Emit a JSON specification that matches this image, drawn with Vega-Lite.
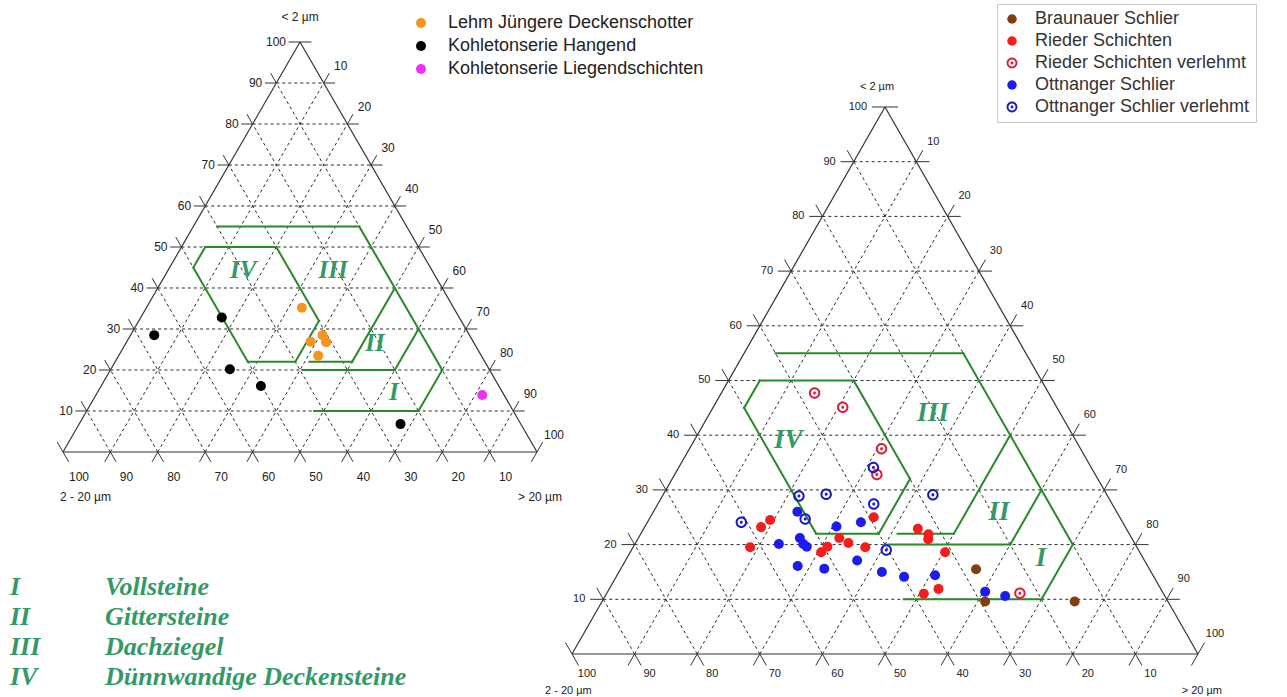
{
"$schema": "https://vega.github.io/schema/vega-lite/v6.json",
"background": "white",
"padding": 0,
"bounds": "flush",
"spacing": 0,
"config": {"view": {"stroke": null}, "text": {"font": "Liberation Sans"}, "legend": {"labelFont": "Liberation Sans"}},
"resolve": {"scale": {"color": "independent", "shape": "independent"}},
"datasets": {
"lines": [
{"kind":"grid","c1":10,"s1":0,"c2":10,"s2":90},{"kind":"grid","c1":20,"s1":0,"c2":20,"s2":80},{"kind":"grid","c1":30,"s1":0,"c2":30,"s2":70},{"kind":"grid","c1":40,"s1":0,"c2":40,"s2":60},{"kind":"grid","c1":50,"s1":0,"c2":50,"s2":50},{"kind":"grid","c1":60,"s1":0,"c2":60,"s2":40},{"kind":"grid","c1":70,"s1":0,"c2":70,"s2":30},{"kind":"grid","c1":80,"s1":0,"c2":80,"s2":20},{"kind":"grid","c1":90,"s1":0,"c2":90,"s2":10},
{"kind":"grid","c1":0,"s1":10,"c2":90,"s2":10},{"kind":"grid","c1":0,"s1":20,"c2":80,"s2":20},{"kind":"grid","c1":0,"s1":30,"c2":70,"s2":30},{"kind":"grid","c1":0,"s1":40,"c2":60,"s2":40},{"kind":"grid","c1":0,"s1":50,"c2":50,"s2":50},{"kind":"grid","c1":0,"s1":60,"c2":40,"s2":60},{"kind":"grid","c1":0,"s1":70,"c2":30,"s2":70},{"kind":"grid","c1":0,"s1":80,"c2":20,"s2":80},{"kind":"grid","c1":0,"s1":90,"c2":10,"s2":90},
{"kind":"grid","c1":0,"s1":90,"c2":90,"s2":0},{"kind":"grid","c1":0,"s1":80,"c2":80,"s2":0},{"kind":"grid","c1":0,"s1":70,"c2":70,"s2":0},{"kind":"grid","c1":0,"s1":60,"c2":60,"s2":0},{"kind":"grid","c1":0,"s1":50,"c2":50,"s2":0},{"kind":"grid","c1":0,"s1":40,"c2":40,"s2":0},{"kind":"grid","c1":0,"s1":30,"c2":30,"s2":0},{"kind":"grid","c1":0,"s1":20,"c2":20,"s2":0},{"kind":"grid","c1":0,"s1":10,"c2":10,"s2":0},
{"kind":"edge","c1":0,"s1":0,"c2":0,"s2":100},{"kind":"edge","c1":0,"s1":0,"c2":100,"s2":0},{"kind":"edge","c1":0,"s1":100,"c2":100,"s2":0},
{"kind":"corner","c1":100,"s1":0,"c2":100,"s2":0.001},{"kind":"corner","c1":0,"s1":0,"c2":0.001,"s2":-0.001},{"kind":"corner","c1":0,"s1":100,"c2":0.001,"s2":100}
],
"zones": [
{"c1":55,"s1":5,"c2":55,"s2":35},{"c1":55,"s1":35,"c2":20,"s2":70},{"c1":20,"s1":70,"c2":10,"s2":70},{"c1":10,"s1":70,"c2":10,"s2":48},
{"c1":20,"s1":40.5,"c2":20,"s2":60},{"c1":20,"s1":60,"c2":30,"s2":60},
{"c1":22,"s1":41,"c2":22,"s2":50},{"c1":22,"s1":50,"c2":40,"s2":50},
{"c1":50,"s1":5,"c2":50,"s2":20},{"c1":50,"s1":20,"c2":32,"s2":38},{"c1":32,"s1":38,"c2":22,"s2":38},{"c1":22,"s1":38,"c2":22,"s2":28},{"c1":22,"s1":28,"c2":45,"s2":5},{"c1":45,"s1":5,"c2":50,"s2":5}
],
"vals": [{"v":10},{"v":20},{"v":30},{"v":40},{"v":50},{"v":60},{"v":70},{"v":80},{"v":90},{"v":100}],
"fieldNames": [{"code":"I","name":"Vollsteine"},{"code":"II","name":"Gittersteine"},{"code":"III","name":"Dachziegel"},{"code":"IV","name":"Dünnwandige Deckensteine"}],
"zoneLabelsL": [{"label":"IV","clay":44.4,"sand":15.8},{"label":"III","clay":44.4,"sand":34.8},{"label":"II","clay":26.6,"sand":52.5},{"label":"I","clay":14.6,"sand":62.5}],
"zoneLabelsR": [{"label":"IV","clay":39.1,"sand":15.0},{"label":"III","clay":44.1,"sand":35.6},{"label":"II","clay":26.0,"sand":55.2},{"label":"I","clay":17.6,"sand":66.1}],
"ptsL": [
{"group":"Lehm Jüngere Deckenschotter","clay":35.2,"sand":32.8},{"group":"Lehm Jüngere Deckenschotter","clay":26.9,"sand":38.8},{"group":"Lehm Jüngere Deckenschotter","clay":28.5,"sand":40.5},{"group":"Lehm Jüngere Deckenschotter","clay":26.8,"sand":42.1},{"group":"Lehm Jüngere Deckenschotter","clay":23.5,"sand":42.1},
{"group":"Kohletonserie Hangend","clay":32.8,"sand":17.1},{"group":"Kohletonserie Hangend","clay":28.5,"sand":5.0},{"group":"Kohletonserie Hangend","clay":20.2,"sand":25.1},{"group":"Kohletonserie Hangend","clay":16.1,"sand":33.7},{"group":"Kohletonserie Hangend","clay":6.8,"sand":67.8},
{"group":"Kohletonserie Liegendschichten","clay":13.9,"sand":81.5}
],
"ptsR": [
{"group":"Braunauer Schlier","clay":15.5,"sand":56.8},{"group":"Braunauer Schlier","clay":9.6,"sand":61.2},{"group":"Braunauer Schlier","clay":9.6,"sand":75.5},
{"group":"Rieder Schichten","clay":24.5,"sand":19.4},{"group":"Rieder Schichten","clay":23.2,"sand":18.6},{"group":"Rieder Schichten","clay":19.5,"sand":18.7},{"group":"Rieder Schichten","clay":25.0,"sand":35.7},{"group":"Rieder Schichten","clay":21.2,"sand":32.1},{"group":"Rieder Schichten","clay":20.3,"sand":34.0},{"group":"Rieder Schichten","clay":19.5,"sand":37.1},{"group":"Rieder Schichten","clay":19.6,"sand":31.0},{"group":"Rieder Schichten","clay":18.6,"sand":30.5},{"group":"Rieder Schichten","clay":22.9,"sand":43.8},{"group":"Rieder Schichten","clay":21.9,"sand":46.0},{"group":"Rieder Schichten","clay":21.0,"sand":46.4},{"group":"Rieder Schichten","clay":18.6,"sand":50.3},{"group":"Rieder Schichten","clay":11.9,"sand":52.6},{"group":"Rieder Schichten","clay":11.0,"sand":50.7},
{"group":"Rieder Schichten verlehmt","clay":47.7,"sand":14.9},{"group":"Rieder Schichten verlehmt","clay":45.1,"sand":20.7},{"group":"Rieder Schichten verlehmt","clay":37.5,"sand":30.7},{"group":"Rieder Schichten verlehmt","clay":32.8,"sand":32.3},{"group":"Rieder Schichten verlehmt","clay":11.1,"sand":66.0},
{"group":"Ottnanger Schlier","clay":26.0,"sand":23.0},{"group":"Ottnanger Schlier","clay":23.3,"sand":30.6},{"group":"Ottnanger Schlier","clay":24.1,"sand":34.1},{"group":"Ottnanger Schlier","clay":20.1,"sand":23.0},{"group":"Ottnanger Schlier","clay":21.2,"sand":25.8},{"group":"Ottnanger Schlier","clay":20.1,"sand":26.9},{"group":"Ottnanger Schlier","clay":19.6,"sand":27.7},{"group":"Ottnanger Schlier","clay":16.1,"sand":28.0},{"group":"Ottnanger Schlier","clay":15.6,"sand":32.5},{"group":"Ottnanger Schlier","clay":17.1,"sand":37.0},{"group":"Ottnanger Schlier","clay":15.0,"sand":42.0},{"group":"Ottnanger Schlier","clay":14.1,"sand":46.0},{"group":"Ottnanger Schlier","clay":14.4,"sand":50.8},{"group":"Ottnanger Schlier","clay":11.4,"sand":60.3},{"group":"Ottnanger Schlier","clay":10.6,"sand":63.9},
{"group":"Ottnanger Schlier verlehmt","clay":34.1,"sand":31.1},{"group":"Ottnanger Schlier verlehmt","clay":28.9,"sand":21.8},{"group":"Ottnanger Schlier verlehmt","clay":29.2,"sand":26.0},{"group":"Ottnanger Schlier verlehmt","clay":27.4,"sand":34.5},{"group":"Ottnanger Schlier verlehmt","clay":29.1,"sand":43.1},{"group":"Ottnanger Schlier verlehmt","clay":24.7,"sand":24.9},{"group":"Ottnanger Schlier verlehmt","clay":24.1,"sand":15.0},{"group":"Ottnanger Schlier verlehmt","clay":19.0,"sand":40.7}
],
"titles": [{"t":"< 2 µm","clay":100,"sand":0,"pos":"top"},{"t":"2 - 20 µm","clay":0,"sand":0,"pos":"left"},{"t":"> 20 µm","clay":0,"sand":100,"pos":"right"}]
},
"hconcat": [
{
"width": 560, "height": 568,
"resolve": {"scale": {"x": "independent", "y": "independent"}},
"encoding": {
"x": {"field":"x","type":"quantitative","scale":{"domain":[-13.291,104.852],"nice":false,"zero":false},"axis":null},
"y": {"field":"y","type":"quantitative","scale":{"domain":[-28.293,110.244],"nice":false,"zero":false},"axis":null}
},
"layer": [
{"data":{"name":"lines"},"transform":[{"filter":"datum.kind === 'grid'"},{"calculate":"datum.s1 + datum.c1 / 2","as":"x"},{"calculate":"datum.c1","as":"y"},{"calculate":"datum.s2 + datum.c2 / 2","as":"x2"},{"calculate":"datum.c2","as":"y2"}],
 "mark":{"type":"rule","color":"#2a2a2a","strokeWidth":1,"strokeDash":[3,3]},"encoding":{"x2":{"field":"x2"},"y2":{"field":"y2"}}},
{"data":{"name":"lines"},"transform":[{"filter":"datum.kind === 'edge'"},{"calculate":"datum.s1 + datum.c1 / 2","as":"x"},{"calculate":"datum.c1","as":"y"},{"calculate":"datum.s2 + datum.c2 / 2","as":"x2"},{"calculate":"datum.c2","as":"y2"}],
 "mark":{"type":"rule","color":"#333333","strokeWidth":1.2},"encoding":{"x2":{"field":"x2"},"y2":{"field":"y2"}}},
{"data":{"name":"lines"},"transform":[{"filter":"datum.kind !== 'edge'"},{"calculate":"max(abs(datum.c1 - datum.c2), abs(datum.s1 - datum.s2))","as":"d"},{"calculate":"datum.s1 + datum.c1 / 2","as":"x"},{"calculate":"datum.c1","as":"y"},{"calculate":"datum.c1 + 2.4 * (datum.c1 - datum.c2) / datum.d","as":"ec"},{"calculate":"datum.s1 + 2.4 * (datum.s1 - datum.s2) / datum.d","as":"es"},{"calculate":"datum.es + datum.ec / 2","as":"x2"},{"calculate":"datum.ec","as":"y2"}],
 "mark":{"type":"rule","color":"#333333","strokeWidth":1},"encoding":{"x2":{"field":"x2"},"y2":{"field":"y2"}}},
{"data":{"name":"lines"},"transform":[{"filter":"datum.kind !== 'edge'"},{"calculate":"max(abs(datum.c1 - datum.c2), abs(datum.s1 - datum.s2))","as":"d"},{"calculate":"datum.s2 + datum.c2 / 2","as":"x"},{"calculate":"datum.c2","as":"y"},{"calculate":"datum.c2 + 2.4 * (datum.c2 - datum.c1) / datum.d","as":"ec"},{"calculate":"datum.s2 + 2.4 * (datum.s2 - datum.s1) / datum.d","as":"es"},{"calculate":"datum.es + datum.ec / 2","as":"x2"},{"calculate":"datum.ec","as":"y2"}],
 "mark":{"type":"rule","color":"#333333","strokeWidth":1},"encoding":{"x2":{"field":"x2"},"y2":{"field":"y2"}}},
{"data":{"name":"zones"},"transform":[{"calculate":"datum.s1 + datum.c1 / 2","as":"x"},{"calculate":"datum.c1","as":"y"},{"calculate":"datum.s2 + datum.c2 / 2","as":"x2"},{"calculate":"datum.c2","as":"y2"}],
 "mark":{"type":"rule","color":"#2a8a2a","strokeWidth":2,"strokeCap":"square"},"encoding":{"x2":{"field":"x2"},"y2":{"field":"y2"}}},
{"data":{"name":"zoneLabelsL"},"transform":[{"calculate":"datum.sand + datum.clay / 2","as":"x"},{"calculate":"datum.clay","as":"y"}],
 "mark":{"type":"text","font":"Liberation Serif","fontSize":25,"fontStyle":"italic","fontWeight":"bold","color":"#339966","align":"center","baseline":"middle"},"encoding":{"text":{"field":"label"}}},
{"data":{"name":"vals"},"transform":[{"calculate":"datum.v / 2","as":"x"},{"calculate":"datum.v","as":"y"}],
 "mark":{"type":"text","fontSize":12,"color":"#222222","align":"right","baseline":"middle","dx":-14},"encoding":{"text":{"field":"v","type":"quantitative"}}},
{"data":{"name":"vals"},"transform":[{"calculate":"50 + datum.v / 2","as":"x"},{"calculate":"100 - datum.v","as":"y"}],
 "mark":{"type":"text","fontSize":12,"color":"#222222","align":"center","baseline":"middle","dx":17,"dy":-17},"encoding":{"text":{"field":"v","type":"quantitative"}}},
{"data":{"name":"vals"},"transform":[{"calculate":"100 - datum.v","as":"x"},{"calculate":"0","as":"y"}],
 "mark":{"type":"text","fontSize":12,"color":"#222222","align":"center","baseline":"middle","dx":16,"dy":25},"encoding":{"text":{"field":"v","type":"quantitative"}}},
{"data":{"name":"titles"},"transform":[{"filter":"datum.pos === 'top'"},{"calculate":"datum.sand + datum.clay / 2","as":"x"},{"calculate":"datum.clay","as":"y"}],
 "mark":{"type":"text","fontSize":12,"color":"#222222","align":"center","baseline":"middle","dy":-25},"encoding":{"text":{"field":"t"}}},
{"data":{"name":"titles"},"transform":[{"filter":"datum.pos === 'left'"},{"calculate":"datum.sand + datum.clay / 2","as":"x"},{"calculate":"datum.clay","as":"y"}],
 "mark":{"type":"text","fontSize":12,"color":"#222222","align":"left","baseline":"middle","dx":-3,"dy":45},"encoding":{"text":{"field":"t"}}},
{"data":{"name":"titles"},"transform":[{"filter":"datum.pos === 'right'"},{"calculate":"datum.sand + datum.clay / 2","as":"x"},{"calculate":"datum.clay","as":"y"}],
 "mark":{"type":"text","fontSize":12,"color":"#222222","align":"right","baseline":"middle","dx":25,"dy":45},"encoding":{"text":{"field":"t"}}},
{"data":{"name":"ptsL"},"transform":[{"calculate":"datum.sand + datum.clay / 2","as":"x"},{"calculate":"datum.clay","as":"y"}],
 "mark":{"type":"point","filled":true,"size":100,"opacity":1,"shape":"circle"},
 "encoding":{"color":{"field":"group","type":"nominal",
   "scale":{"domain":["Lehm Jüngere Deckenschotter","Kohletonserie Hangend","Kohletonserie Liegendschichten"],"range":["#f7941d","#000000","#f030f0"]},
   "legend":{"title":null,"orient":"none","legendX":412,"legendY":14,"symbolType":"circle","symbolSize":100,"labelFontSize":18,"labelColor":"#222222","labelOffset":18,"rowPadding":5,"padding":0,"labelLimit":400}}}},
{"data":{"name":"fieldNames"},
 "mark":{"type":"text","align":"left","baseline":"alphabetic","font":"Liberation Serif","fontSize":26,"fontStyle":"italic","fontWeight":"bold","color":"#339966"},
 "encoding":{"x":{"datum":"code","type":"nominal","scale":{"type":"point","domain":["code","name"],"range":[10,105],"padding":0},"axis":null},
   "y":{"field":"code","type":"ordinal","scale":{"type":"point","domain":["I","II","III","IV"],"range":[595,685],"padding":0},"axis":null},
   "text":{"field":"code"}}},
{"data":{"name":"fieldNames"},
 "mark":{"type":"text","align":"left","baseline":"alphabetic","font":"Liberation Serif","fontSize":26,"fontStyle":"italic","fontWeight":"bold","color":"#339966"},
 "encoding":{"x":{"datum":"name","type":"nominal","scale":{"type":"point","domain":["code","name"],"range":[10,105],"padding":0},"axis":null},
   "y":{"field":"code","type":"ordinal","scale":{"type":"point","domain":["I","II","III","IV"],"range":[595,685],"padding":0},"axis":null},
   "text":{"field":"name"}}}
]
},
{
"width": 727, "height": 697,
"encoding": {
"x": {"field":"x","type":"quantitative","scale":{"domain":[-1.917,114.217],"nice":false,"zero":false},"axis":null},
"y": {"field":"y","type":"quantitative","scale":{"domain":[-7.861,119.561],"nice":false,"zero":false},"axis":null}
},
"layer": [
{"data":{"name":"lines"},"transform":[{"filter":"datum.kind === 'grid'"},{"calculate":"datum.s1 + datum.c1 / 2","as":"x"},{"calculate":"datum.c1","as":"y"},{"calculate":"datum.s2 + datum.c2 / 2","as":"x2"},{"calculate":"datum.c2","as":"y2"}],
 "mark":{"type":"rule","color":"#2a2a2a","strokeWidth":1,"strokeDash":[3,3]},"encoding":{"x2":{"field":"x2"},"y2":{"field":"y2"}}},
{"data":{"name":"lines"},"transform":[{"filter":"datum.kind === 'edge'"},{"calculate":"datum.s1 + datum.c1 / 2","as":"x"},{"calculate":"datum.c1","as":"y"},{"calculate":"datum.s2 + datum.c2 / 2","as":"x2"},{"calculate":"datum.c2","as":"y2"}],
 "mark":{"type":"rule","color":"#333333","strokeWidth":1.2},"encoding":{"x2":{"field":"x2"},"y2":{"field":"y2"}}},
{"data":{"name":"lines"},"transform":[{"filter":"datum.kind !== 'edge'"},{"calculate":"max(abs(datum.c1 - datum.c2), abs(datum.s1 - datum.s2))","as":"d"},{"calculate":"datum.s1 + datum.c1 / 2","as":"x"},{"calculate":"datum.c1","as":"y"},{"calculate":"datum.c1 + 2.1 * (datum.c1 - datum.c2) / datum.d","as":"ec"},{"calculate":"datum.s1 + 2.1 * (datum.s1 - datum.s2) / datum.d","as":"es"},{"calculate":"datum.es + datum.ec / 2","as":"x2"},{"calculate":"datum.ec","as":"y2"}],
 "mark":{"type":"rule","color":"#333333","strokeWidth":1},"encoding":{"x2":{"field":"x2"},"y2":{"field":"y2"}}},
{"data":{"name":"lines"},"transform":[{"filter":"datum.kind !== 'edge'"},{"calculate":"max(abs(datum.c1 - datum.c2), abs(datum.s1 - datum.s2))","as":"d"},{"calculate":"datum.s2 + datum.c2 / 2","as":"x"},{"calculate":"datum.c2","as":"y"},{"calculate":"datum.c2 + 2.1 * (datum.c2 - datum.c1) / datum.d","as":"ec"},{"calculate":"datum.s2 + 2.1 * (datum.s2 - datum.s1) / datum.d","as":"es"},{"calculate":"datum.es + datum.ec / 2","as":"x2"},{"calculate":"datum.ec","as":"y2"}],
 "mark":{"type":"rule","color":"#333333","strokeWidth":1},"encoding":{"x2":{"field":"x2"},"y2":{"field":"y2"}}},
{"data":{"name":"zones"},"transform":[{"calculate":"datum.s1 + datum.c1 / 2","as":"x"},{"calculate":"datum.c1","as":"y"},{"calculate":"datum.s2 + datum.c2 / 2","as":"x2"},{"calculate":"datum.c2","as":"y2"}],
 "mark":{"type":"rule","color":"#2a8a2a","strokeWidth":2,"strokeCap":"square"},"encoding":{"x2":{"field":"x2"},"y2":{"field":"y2"}}},
{"data":{"name":"zoneLabelsR"},"transform":[{"calculate":"datum.sand + datum.clay / 2","as":"x"},{"calculate":"datum.clay","as":"y"}],
 "mark":{"type":"text","font":"Liberation Serif","fontSize":27,"fontStyle":"italic","fontWeight":"bold","color":"#339966","align":"center","baseline":"middle"},"encoding":{"text":{"field":"label"}}},
{"data":{"name":"vals"},"transform":[{"calculate":"datum.v / 2","as":"x"},{"calculate":"datum.v","as":"y"}],
 "mark":{"type":"text","fontSize":11,"color":"#222222","align":"right","baseline":"middle","dx":-18},"encoding":{"text":{"field":"v","type":"quantitative"}}},
{"data":{"name":"vals"},"transform":[{"calculate":"50 + datum.v / 2","as":"x"},{"calculate":"100 - datum.v","as":"y"}],
 "mark":{"type":"text","fontSize":11,"color":"#222222","align":"center","baseline":"middle","dx":17,"dy":-20},"encoding":{"text":{"field":"v","type":"quantitative"}}},
{"data":{"name":"vals"},"transform":[{"calculate":"100 - datum.v","as":"x"},{"calculate":"0","as":"y"}],
 "mark":{"type":"text","fontSize":11,"color":"#222222","align":"center","baseline":"middle","dx":15,"dy":20},"encoding":{"text":{"field":"v","type":"quantitative"}}},
{"data":{"name":"titles"},"transform":[{"filter":"datum.pos === 'top'"},{"calculate":"datum.sand + datum.clay / 2","as":"x"},{"calculate":"datum.clay","as":"y"}],
 "mark":{"type":"text","fontSize":11,"color":"#222222","align":"center","baseline":"middle","dx":-8,"dy":-20},"encoding":{"text":{"field":"t"}}},
{"data":{"name":"titles"},"transform":[{"filter":"datum.pos === 'left'"},{"calculate":"datum.sand + datum.clay / 2","as":"x"},{"calculate":"datum.clay","as":"y"}],
 "mark":{"type":"text","fontSize":11,"color":"#222222","align":"left","baseline":"middle","dx":-27,"dy":37},"encoding":{"text":{"field":"t"}}},
{"data":{"name":"titles"},"transform":[{"filter":"datum.pos === 'right'"},{"calculate":"datum.sand + datum.clay / 2","as":"x"},{"calculate":"datum.clay","as":"y"}],
 "mark":{"type":"text","fontSize":11,"color":"#222222","align":"right","baseline":"middle","dx":24,"dy":37},"encoding":{"text":{"field":"t"}}},
{"data":{"name":"ptsR"},"transform":[{"calculate":"datum.sand + datum.clay / 2","as":"x"},{"calculate":"datum.clay","as":"y"}],
 "mark":{"type":"point","filled":true,"size":100,"opacity":1},
 "encoding":{
   "color":{"field":"group","type":"nominal",
     "scale":{"domain":["Braunauer Schlier","Rieder Schichten","Rieder Schichten verlehmt","Ottnanger Schlier","Ottnanger Schlier verlehmt"],"range":["#7f3f10","#f51c1c","#dc1f3c","#1c1cf0","#1a1ac8"]},
     "legend":{"title":null,"orient":"none","legendX":437,"legendY":4,"symbolSize":90,"labelFontSize":18,"labelColor":"#333333","labelOffset":14,"rowPadding":4,"padding":6,"strokeColor":"#c8c8c8","fillColor":"#ffffff","labelLimit":400}},
   "shape":{"field":"group","type":"nominal",
     "scale":{"domain":["Braunauer Schlier","Rieder Schichten","Rieder Schichten verlehmt","Ottnanger Schlier","Ottnanger Schlier verlehmt"],
       "range":["circle","circle",
         "M 1.15 0 C 1.15 0.6351 0.6351 1.15 0 1.15 C -0.6351 1.15 -1.15 0.6351 -1.15 0 C -1.15 -0.6351 -0.6351 -1.15 0 -1.15 C 0.6351 -1.15 1.15 -0.6351 1.15 0 Z M 0.75 0 C 0.75 -0.4142 0.4142 -0.75 0 -0.75 C -0.4142 -0.75 -0.75 -0.4142 -0.75 0 C -0.75 0.4142 -0.4142 0.75 0 0.75 C 0.4142 0.75 0.75 0.4142 0.75 0 Z M 0.3 0 C 0.3 0.1657 0.1657 0.3 0 0.3 C -0.1657 0.3 -0.3 0.1657 -0.3 0 C -0.3 -0.1657 -0.1657 -0.3 0 -0.3 C 0.1657 -0.3 0.3 -0.1657 0.3 0 Z",
         "circle",
         "M 1.15 0 C 1.15 0.6351 0.6351 1.15 0 1.15 C -0.6351 1.15 -1.15 0.6351 -1.15 0 C -1.15 -0.6351 -0.6351 -1.15 0 -1.15 C 0.6351 -1.15 1.15 -0.6351 1.15 0 Z M 0.75 0 C 0.75 -0.4142 0.4142 -0.75 0 -0.75 C -0.4142 -0.75 -0.75 -0.4142 -0.75 0 C -0.75 0.4142 -0.4142 0.75 0 0.75 C 0.4142 0.75 0.75 0.4142 0.75 0 Z M 0.3 0 C 0.3 0.1657 0.1657 0.3 0 0.3 C -0.1657 0.3 -0.3 0.1657 -0.3 0 C -0.3 -0.1657 -0.1657 -0.3 0 -0.3 C 0.1657 -0.3 0.3 -0.1657 0.3 0 Z"]},
     "legend":{"title":null,"orient":"none","legendX":437,"legendY":4,"symbolSize":90,"labelFontSize":18,"labelColor":"#333333","labelOffset":14,"rowPadding":4,"padding":6,"strokeColor":"#c8c8c8","fillColor":"#ffffff","labelLimit":400}}
 }}
]
}
]
}
